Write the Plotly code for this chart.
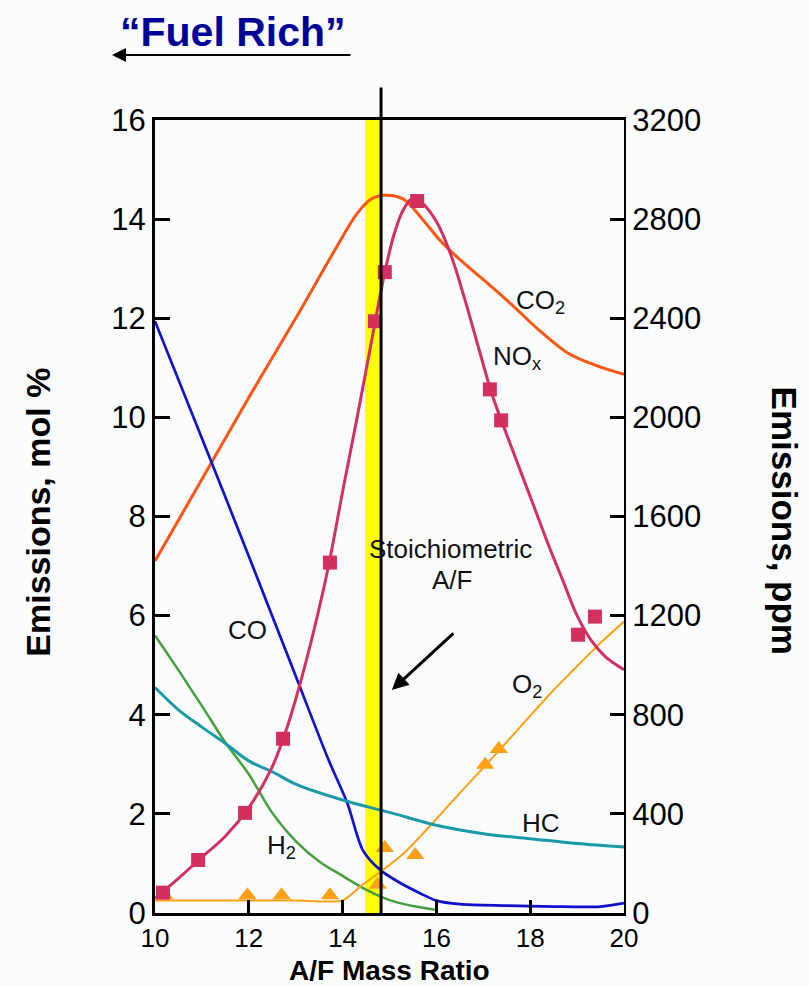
import plotly.graph_objects as go

# ---------------- data (A/F mass ratio vs emissions) ----------------
# mol % series (left axis)
co2_x = [10, 11, 12, 13, 13.88, 14.3, 14.6, 14.9, 15.3, 15.7, 16.1, 16.6, 17.1, 17.6, 18.2, 18.8, 19.4, 20]
co2_y = [7.1, 8.75, 10.4, 12.0, 13.45, 14.1, 14.4, 14.48, 14.4, 14.0, 13.55, 13.1, 12.7, 12.28, 11.75, 11.3, 11.05, 10.87]

co_x = [10, 11, 12, 13, 13.7, 14.1, 14.43, 14.8, 15.22, 15.65, 16.0, 16.5, 17.5, 18.5, 19.5, 20]
co_y = [11.94, 9.58, 7.2, 4.78, 3.09, 2.22, 1.27, 0.87, 0.61, 0.4, 0.25, 0.18, 0.15, 0.13, 0.13, 0.2]

h2_x = [10, 10.5, 11, 11.5, 12, 12.5, 13, 13.5, 14, 14.5, 15, 15.5, 16]
h2_y = [5.6, 4.9, 4.18, 3.44, 2.8, 2.02, 1.45, 1.04, 0.75, 0.47, 0.26, 0.14, 0.06]

o2_x = [10, 11, 12, 13, 14.0, 14.4, 14.86, 15.3, 15.65, 16.0, 16.5, 17.0, 17.5, 18.0, 18.5, 19.0, 19.5, 20]
o2_y = [0.25, 0.25, 0.25, 0.25, 0.25, 0.55, 0.87, 1.2, 1.54, 1.9, 2.42, 2.93, 3.45, 3.98, 4.5, 4.98, 5.45, 5.88]
o2_pts_x = [10.2, 11.97, 12.7, 13.73, 14.75, 14.9, 15.55, 17.04, 17.33]
o2_pts_y = [0.36, 0.36, 0.36, 0.36, 0.57, 1.31, 1.17, 2.99, 3.31]

# ppm series (right axis)
hc_x = [10, 10.5, 11, 11.5, 12, 12.5, 13, 14, 15, 16, 17, 18, 19, 20]
hc_ppm = [910, 820, 750, 684, 614, 570, 520, 456, 406, 354, 320, 300, 280, 266]

nox_x = [10, 10.5, 11, 11.5, 12, 12.5, 12.8, 13.1, 13.4, 13.7, 14.0, 14.3, 14.6, 14.9, 15.1, 15.3,
         15.5, 15.7, 16.0, 16.3, 16.6, 16.9, 17.2, 17.5, 17.8, 18.1, 18.4, 18.7, 19.0, 19.3, 19.6, 20]
nox_ppm = [60, 140, 225, 310, 425, 590, 740, 930, 1150, 1400, 1700, 1990, 2290, 2586, 2740, 2840,
           2885, 2865, 2790, 2660, 2480, 2280, 2085, 1930, 1780, 1630, 1480, 1340, 1200, 1100, 1035, 982]
nox_pts_x = [10.17, 10.92, 11.92, 12.73, 13.73, 14.69, 14.9, 15.59, 17.14, 17.38, 19.02, 19.38]
nox_pts_ppm = [82, 214, 404, 703, 1414, 2388, 2586, 2873, 2113, 1988, 1123, 1196]

stoich_band = [14.48, 14.8]
stoich_line = 14.82

x_ticks = [10, 12, 14, 16, 18, 20]
y_ticks = [0, 2, 4, 6, 8, 10, 12, 14, 16]
y2_ticks = [0, 400, 800, 1200, 1600, 2000, 2400, 2800, 3200]

# ---------------- styling ----------------
C_CO2 = "#FF5511"
C_CO = "#1111CC"
C_H2 = "#44A03C"
C_HC = "#1A99A8"
C_NOX = "#D4305F"
C_O2 = "#FFA015"
BG = "#FBFCFE"
FAM = "Liberation Sans, Arial, sans-serif"
TICKFONT = dict(family=FAM, size=31, color="black")

fig = go.Figure()

fig.add_trace(go.Scatter(x=co2_x, y=co2_y, mode="lines", line=dict(color=C_CO2, width=3, shape="spline"), name="CO2"))
fig.add_trace(go.Scatter(x=co_x, y=co_y, mode="lines", line=dict(color=C_CO, width=2.7, shape="spline", smoothing=0.8), name="CO"))
fig.add_trace(go.Scatter(x=h2_x, y=h2_y, mode="lines", line=dict(color=C_H2, width=2.5, shape="spline"), name="H2"))
fig.add_trace(go.Scatter(x=hc_x, y=hc_ppm, yaxis="y2", mode="lines", line=dict(color=C_HC, width=3, shape="spline"), name="HC"))
fig.add_trace(go.Scatter(x=o2_x, y=o2_y, mode="lines", line=dict(color=C_O2, width=2, shape="spline", smoothing=0.6), name="O2"))
fig.add_trace(go.Scatter(x=o2_pts_x, y=o2_pts_y, mode="markers", marker=dict(symbol="triangle-up", size=16, color=C_O2), name="O2 data"))
fig.add_trace(go.Scatter(x=nox_x, y=nox_ppm, yaxis="y2", mode="lines", line=dict(color=C_NOX, width=3, shape="spline"), name="NOx"))
fig.add_trace(go.Scatter(x=nox_pts_x, y=nox_pts_ppm, yaxis="y2", mode="markers", marker=dict(symbol="square", size=14, color=C_NOX), name="NOx data"))

shapes = [
    dict(type="rect", xref="x", yref="paper", x0=stoich_band[0], x1=stoich_band[1], y0=0, y1=1,
         fillcolor="#FFFF00", line=dict(width=0), layer="below"),
    dict(type="line", xref="paper", yref="paper", x0=(stoich_line - 10) / 10, x1=(stoich_line - 10) / 10,
         y0=0, y1=1.041, line=dict(color="black", width=3), layer="above"),
]

lab = dict(family=FAM, size=26, color="#111111")
annotations = [
    dict(x=18.21, y=12.34, text="CO<sub>2</sub>", showarrow=False, font=lab),
    dict(x=17.72, y=11.21, text="NO<sub>x</sub>", showarrow=False, font=lab),
    dict(x=11.98, y=5.72, text="CO", showarrow=False, font=lab),
    dict(x=12.7, y=1.35, text="H<sub>2</sub>", showarrow=False, font=lab),
    dict(x=17.93, y=4.59, text="O<sub>2</sub>", showarrow=False, font=lab),
    dict(x=18.23, y=1.82, text="HC", showarrow=False, font=lab),
    dict(x=16.29, y=7.35, text="Stoichiometric", showarrow=False, font=lab),
    dict(x=16.33, y=6.71, text="A/F", showarrow=False, font=lab),
    dict(x=15.05, y=4.5, ax=63, ay=-58, text="", showarrow=True, arrowhead=2, arrowsize=1.1,
         arrowwidth=3, arrowcolor="black", standoff=0),
    # titles
    dict(xref="paper", yref="paper", x=-0.2495, y=0.506, xanchor="center", yanchor="middle",
         text="<b>Emissions, mol %</b>", textangle=-90,
         showarrow=False, font=dict(family=FAM, size=34, color="black")),
    dict(xref="paper", yref="paper", x=1.343, y=0.495, xanchor="center", yanchor="middle",
         text="<b>Emissions, ppm</b>", textangle=90,
         showarrow=False, font=dict(family=FAM, size=35, color="black")),
    dict(xref="paper", yref="paper", x=0.501, y=-0.072, xanchor="center", yanchor="middle",
         text="<b>A/F Mass Ratio</b>",
         showarrow=False, font=dict(family=FAM, size=28, color="black")),
    dict(xref="paper", yref="paper", x=0.166, y=1.111, xanchor="center", yanchor="middle",
         text="<b>“Fuel Rich”</b>",
         showarrow=False, font=dict(family=FAM, size=41, color="#000099")),
    dict(xref="paper", yref="paper", x=-0.0917, y=1.082, ax=240, ay=0, text="", showarrow=True,
         arrowhead=2, arrowsize=1.4, arrowwidth=2, arrowcolor="black", standoff=0),
]

fig.update_layout(
    width=809, height=986,
    margin=dict(l=155, r=185, t=120, b=73),
    paper_bgcolor=BG, plot_bgcolor=BG,
    showlegend=False,
    shapes=shapes,
    annotations=annotations,
    xaxis=dict(range=[10, 20], tickvals=x_ticks, ticks="inside", ticklen=13, tickwidth=2.5,
               tickcolor="black", showline=True, linecolor="black", linewidth=3, mirror=True,
               showgrid=False, zeroline=False,
               tickfont=dict(family=FAM, size=26, color="black")),
    yaxis=dict(range=[0, 16], tickvals=y_ticks, ticks="inside", ticklen=15, tickwidth=3,
               tickcolor="black", showline=True, linecolor="black", linewidth=3,
               showgrid=False, zeroline=False, tickfont=TICKFONT),
    yaxis2=dict(range=[0, 3200], tickvals=y2_ticks, overlaying="y", side="right", ticks="inside",
                ticklen=14, tickwidth=2.5, tickcolor="black", showline=True, linecolor="black",
                linewidth=2, showgrid=False, zeroline=False, tickfont=TICKFONT),
)

fig.write_html("out.html", config={"displayModeBar": False},
               post_script="document.body.style.margin='0';document.body.style.background='%s';" % BG)
